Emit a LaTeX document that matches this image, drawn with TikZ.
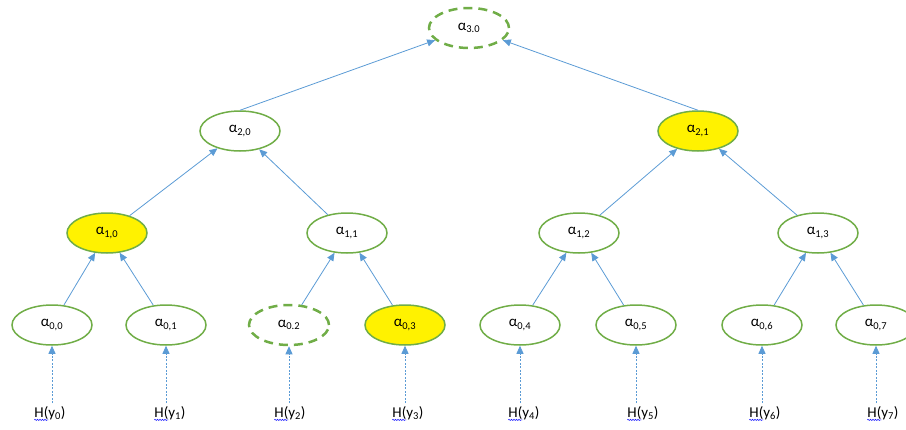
\documentclass[tikz,border=0pt]{standalone}
\usepackage{fontspec}
\setmainfont{Carlito}
\usetikzlibrary{shapes.geometric,arrows.meta,decorations.pathmorphing}
\definecolor{leaf}{RGB}{112,173,71}
\definecolor{sky}{RGB}{91,155,213}
\definecolor{squig}{RGB}{30,30,255}

\tikzset{
  hnode/.style={ellipse, draw=leaf, line width=1.5pt, minimum width=80pt,
    minimum height=40pt, inner sep=0pt, font=\fontsize{15}{17}\selectfont},
  hdash/.style={hnode, line width=2.5pt, dash pattern=on 9pt off 6pt},
  hmark/.style={hnode, fill=yellow},
  link/.style={draw=sky, line width=0.8pt, -{Triangle[length=8pt,width=7pt]}},
  hlink/.style={link, dash pattern=on 2pt off 1.5pt},
  hin/.style={font=\fontsize{15}{17}\selectfont, inner sep=3pt},
  squiggle/.style={draw=squig, line width=0.6pt, decorate,
    decoration={snake, amplitude=0.6pt, segment length=2.5pt}}
}

\begin{document}
\begin{tikzpicture}[x=1pt, y=-1pt]
\useasboundingbox (0,0) rectangle (906,429);

\node[hdash] (a30) at (469, 28) {α\textsubscript{3.0}};

\node[hnode] (a20) at (240, 131) {α\textsubscript{2,0}};
\node[hmark] (a21) at (698, 131) {α\textsubscript{2,1}};

\node[hmark] (a10) at (107, 233) {α\textsubscript{1,0}};
\node[hnode] (a11) at (347, 233) {α\textsubscript{1,1}};
\node[hnode] (a12) at (579, 233) {α\textsubscript{1,2}};
\node[hnode] (a13) at (818, 233) {α\textsubscript{1,3}};

\node[hnode] (a00) at (52, 325) {α\textsubscript{0,0}};
\node[hnode] (a01) at (166, 325) {α\textsubscript{0,1}};
\node[hdash] (a02) at (289, 325) {α\textsubscript{0.2}};
\node[hmark] (a03) at (405, 325) {α\textsubscript{0,3}};
\node[hnode] (a04) at (520, 325) {α\textsubscript{0,4}};
\node[hnode] (a05) at (636, 325) {α\textsubscript{0,5}};
\node[hnode] (a06) at (762, 325) {α\textsubscript{0,6}};
\node[hnode] (a07) at (876, 325) {α\textsubscript{0,7}};

\node[hin] (h0) at (50, 413) {H(y\textsubscript{0})};
\node[hin] (h1) at (170, 413) {H(y\textsubscript{1})};
\node[hin] (h2) at (290, 413) {H(y\textsubscript{2})};
\node[hin] (h3) at (408, 413) {H(y\textsubscript{3})};
\node[hin] (h4) at (524, 413) {H(y\textsubscript{4})};
\node[hin] (h5) at (643, 413) {H(y\textsubscript{5})};
\node[hin] (h6) at (765, 413) {H(y\textsubscript{6})};
\node[hin] (h7) at (883, 413) {H(y\textsubscript{7})};

% spell-check marks under H(
\draw[squiggle] ([xshift=3pt,yshift=3pt]h0.south west) -- ++(14,0);
\draw[squiggle] ([xshift=3pt,yshift=3pt]h1.south west) -- ++(14,0);
\draw[squiggle] ([xshift=3pt,yshift=3pt]h2.south west) -- ++(14,0);
\draw[squiggle] ([xshift=3pt,yshift=3pt]h3.south west) -- ++(14,0);
\draw[squiggle] ([xshift=3pt,yshift=3pt]h4.south west) -- ++(14,0);
\draw[squiggle] ([xshift=3pt,yshift=3pt]h5.south west) -- ++(14,0);
\draw[squiggle] ([xshift=3pt,yshift=3pt]h6.south west) -- ++(14,0);
\draw[squiggle] ([xshift=3pt,yshift=3pt]h7.south west) -- ++(14,0);

\draw[hlink] (h0.north -| a00) -- (a00.south);
\draw[hlink] (h1.north -| a01) -- (a01.south);
\draw[hlink] (h2.north -| a02) -- (a02.south);
\draw[hlink] (h3.north -| a03) -- (a03.south);
\draw[hlink] (h4.north -| a04) -- (a04.south);
\draw[hlink] (h5.north -| a05) -- (a05.south);
\draw[hlink] (h6.north -| a06) -- (a06.south);
\draw[hlink] (h7.north -| a07) -- (a07.south);

\draw[link] (a00) -- (a10);
\draw[link] (a01) -- (a10);
\draw[link] (a02) -- (a11);
\draw[link] (a03) -- (a11);
\draw[link] (a04) -- (a12);
\draw[link] (a05) -- (a12);
\draw[link] (a06) -- (a13);
\draw[link] (a07) -- (a13);

\draw[link] (a10) -- (a20);
\draw[link] (a11) -- (a20);
\draw[link] (a12) -- (a21);
\draw[link] (a13) -- (a21);

\draw[link] (a20.north) -- (a30);
\draw[link] (a21.north) -- (a30);
\end{tikzpicture}
\end{document}
